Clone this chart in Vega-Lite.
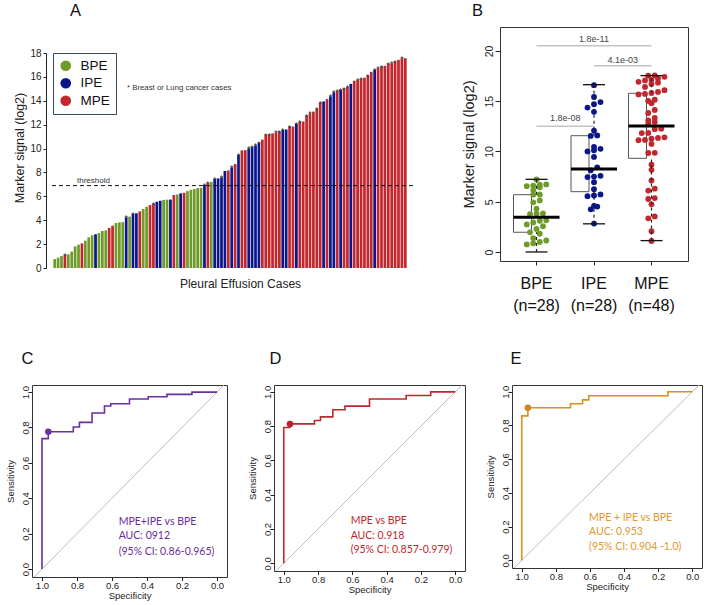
{
  "$schema": "https://vega.github.io/schema/vega-lite/v6.json",
  "padding": {"left": 4, "top": 2, "right": 1, "bottom": 1},
  "background": "white",
  "config": {
    "font": "Liberation Sans",
    "view": {"stroke": null},
    "axis": {"domainColor": "#222", "tickColor": "#222", "labelColor": "#222", "titleColor": "#222", "grid": false, "titleFontWeight": "normal", "labelOverlap": false, "labelFlush": false},
    "title": {"fontWeight": "normal", "anchor": "start", "frame": "group", "fontSize": 16.5, "color": "#111"}
  },
  "datasets": {
    "cases": [
      {"id":1,"v":0.75,"g":"BPE","bl":0},{"id":2,"v":0.86,"g":"BPE","bl":0},{"id":3,"v":1.0,"g":"BPE","bl":0},{"id":4,"v":1.09,"g":"MPE","bl":1},
      {"id":5,"v":1.14,"g":"BPE","bl":0},{"id":6,"v":1.37,"g":"BPE","bl":0},{"id":7,"v":1.81,"g":"BPE","bl":0},{"id":8,"v":1.95,"g":"BPE","bl":0},
      {"id":9,"v":2.06,"g":"MPE","bl":0},{"id":10,"v":2.29,"g":"BPE","bl":0},{"id":11,"v":2.57,"g":"BPE","bl":0},{"id":12,"v":2.74,"g":"BPE","bl":0},
      {"id":13,"v":2.82,"g":"IPE","bl":0},{"id":14,"v":2.93,"g":"BPE","bl":0},{"id":15,"v":3.1,"g":"BPE","bl":0},{"id":16,"v":3.15,"g":"BPE","bl":0},
      {"id":17,"v":3.35,"g":"MPE","bl":0},{"id":18,"v":3.54,"g":"MPE","bl":0},{"id":19,"v":3.77,"g":"BPE","bl":0},{"id":20,"v":3.82,"g":"BPE","bl":0},
      {"id":21,"v":3.84,"g":"BPE","bl":0},{"id":22,"v":4.24,"g":"IPE","bl":1},{"id":23,"v":4.3,"g":"BPE","bl":0},{"id":24,"v":4.52,"g":"IPE","bl":1},
      {"id":25,"v":4.58,"g":"IPE","bl":0},{"id":26,"v":4.74,"g":"MPE","bl":0},{"id":27,"v":4.94,"g":"BPE","bl":0},{"id":28,"v":5.13,"g":"BPE","bl":0},
      {"id":29,"v":5.27,"g":"MPE","bl":0},{"id":30,"v":5.36,"g":"MPE","bl":1},{"id":31,"v":5.55,"g":"IPE","bl":0},{"id":32,"v":5.63,"g":"IPE","bl":0},
      {"id":33,"v":5.7,"g":"BPE","bl":0},{"id":34,"v":5.72,"g":"BPE","bl":0},{"id":35,"v":5.73,"g":"IPE","bl":0},{"id":36,"v":6.11,"g":"MPE","bl":0},
      {"id":37,"v":6.16,"g":"BPE","bl":0},{"id":38,"v":6.25,"g":"IPE","bl":0},{"id":39,"v":6.3,"g":"MPE","bl":0},{"id":40,"v":6.44,"g":"BPE","bl":0},
      {"id":41,"v":6.55,"g":"BPE","bl":0},{"id":42,"v":6.61,"g":"BPE","bl":0},{"id":43,"v":6.69,"g":"BPE","bl":0},{"id":44,"v":6.72,"g":"BPE","bl":0},
      {"id":45,"v":6.95,"g":"IPE","bl":1},{"id":46,"v":7.11,"g":"MPE","bl":1},{"id":47,"v":7.22,"g":"BPE","bl":0},{"id":48,"v":7.45,"g":"IPE","bl":1},
      {"id":49,"v":7.5,"g":"IPE","bl":0},{"id":50,"v":7.58,"g":"IPE","bl":1},{"id":51,"v":8.12,"g":"IPE","bl":0},{"id":52,"v":8.17,"g":"MPE","bl":0},
      {"id":53,"v":8.42,"g":"IPE","bl":1},{"id":54,"v":8.7,"g":"MPE","bl":0},{"id":55,"v":9.46,"g":"IPE","bl":1},{"id":56,"v":9.85,"g":"MPE","bl":0},
      {"id":57,"v":9.87,"g":"MPE","bl":0},{"id":58,"v":10.01,"g":"IPE","bl":1},{"id":59,"v":10.12,"g":"IPE","bl":1},{"id":60,"v":10.26,"g":"IPE","bl":1},
      {"id":61,"v":10.46,"g":"IPE","bl":1},{"id":62,"v":10.75,"g":"MPE","bl":0},{"id":63,"v":11.13,"g":"MPE","bl":1},{"id":64,"v":11.15,"g":"MPE","bl":1},
      {"id":65,"v":11.27,"g":"MPE","bl":0},{"id":66,"v":11.35,"g":"MPE","bl":1},{"id":67,"v":11.41,"g":"MPE","bl":1},{"id":68,"v":11.55,"g":"IPE","bl":1},
      {"id":69,"v":11.6,"g":"IPE","bl":0},{"id":70,"v":11.83,"g":"MPE","bl":1},{"id":71,"v":11.85,"g":"MPE","bl":0},{"id":72,"v":12.08,"g":"IPE","bl":1},
      {"id":73,"v":12.22,"g":"MPE","bl":1},{"id":74,"v":12.27,"g":"MPE","bl":0},{"id":75,"v":12.75,"g":"MPE","bl":1},{"id":76,"v":12.94,"g":"MPE","bl":1},
      {"id":77,"v":13.1,"g":"MPE","bl":0},{"id":78,"v":13.33,"g":"MPE","bl":1},{"id":79,"v":13.83,"g":"MPE","bl":1},{"id":80,"v":13.95,"g":"IPE","bl":0},
      {"id":81,"v":14.14,"g":"MPE","bl":0},{"id":82,"v":14.37,"g":"IPE","bl":1},{"id":83,"v":14.7,"g":"IPE","bl":1},{"id":84,"v":14.81,"g":"MPE","bl":1},
      {"id":85,"v":14.92,"g":"IPE","bl":1},{"id":86,"v":15.03,"g":"MPE","bl":1},{"id":87,"v":15.15,"g":"MPE","bl":1},{"id":88,"v":15.42,"g":"IPE","bl":0},
      {"id":89,"v":15.68,"g":"MPE","bl":0},{"id":90,"v":15.73,"g":"MPE","bl":1},{"id":91,"v":15.82,"g":"MPE","bl":1},{"id":92,"v":15.93,"g":"MPE","bl":0},
      {"id":93,"v":16.1,"g":"MPE","bl":1},{"id":94,"v":16.43,"g":"MPE","bl":0},{"id":95,"v":16.6,"g":"IPE","bl":1},{"id":96,"v":16.71,"g":"MPE","bl":1},
      {"id":97,"v":16.85,"g":"MPE","bl":1},{"id":98,"v":16.93,"g":"MPE","bl":0},{"id":99,"v":17.07,"g":"MPE","bl":1},{"id":100,"v":17.13,"g":"MPE","bl":1},
      {"id":101,"v":17.27,"g":"MPE","bl":1},{"id":102,"v":17.43,"g":"MPE","bl":0},{"id":103,"v":17.55,"g":"MPE","bl":1},{"id":104,"v":17.57,"g":"MPE","bl":0}
    ],
    "box": [
      {"g":"BPE","lo":0.0,"q1":1.96,"med":3.45,"q3":5.7,"hi":7.23},
      {"g":"IPE","lo":2.8,"q1":6.0,"med":8.26,"q3":11.57,"hi":16.65},
      {"g":"MPE","lo":1.13,"q1":9.32,"med":12.54,"q3":15.79,"hi":17.55}
    ],
    "diag": [{"sp":1.2,"se":-0.2},{"sp":-0.2,"se":1.2}],
    "rocC": [
      {"i":1,"sp":1,"se":0},{"i":2,"sp":1,"se":0.737},{"i":3,"sp":0.964,"se":0.737},{"i":4,"sp":0.964,"se":0.776},
      {"i":5,"sp":0.821,"se":0.776},{"i":6,"sp":0.821,"se":0.803},{"i":7,"sp":0.786,"se":0.803},{"i":8,"sp":0.786,"se":0.829},
      {"i":9,"sp":0.714,"se":0.829},{"i":10,"sp":0.714,"se":0.882},{"i":11,"sp":0.643,"se":0.882},{"i":12,"sp":0.643,"se":0.921},
      {"i":13,"sp":0.607,"se":0.921},{"i":14,"sp":0.607,"se":0.934},{"i":15,"sp":0.5,"se":0.934},{"i":16,"sp":0.5,"se":0.961},
      {"i":17,"sp":0.393,"se":0.961},{"i":18,"sp":0.393,"se":0.974},{"i":19,"sp":0.286,"se":0.974},{"i":20,"sp":0.286,"se":0.987},
      {"i":21,"sp":0.143,"se":0.987},{"i":22,"sp":0.143,"se":1},{"i":23,"sp":0,"se":1}
    ],
    "rocD": [
      {"i":1,"sp":1,"se":0},{"i":2,"sp":1,"se":0.792},{"i":3,"sp":0.964,"se":0.792},{"i":4,"sp":0.964,"se":0.813},
      {"i":5,"sp":0.821,"se":0.813},{"i":6,"sp":0.821,"se":0.833},{"i":7,"sp":0.786,"se":0.833},{"i":8,"sp":0.786,"se":0.854},
      {"i":9,"sp":0.714,"se":0.854},{"i":10,"sp":0.714,"se":0.896},{"i":11,"sp":0.643,"se":0.896},{"i":12,"sp":0.643,"se":0.917},
      {"i":13,"sp":0.5,"se":0.917},{"i":14,"sp":0.5,"se":0.958},{"i":15,"sp":0.286,"se":0.958},{"i":16,"sp":0.286,"se":0.979},
      {"i":17,"sp":0.143,"se":0.979},{"i":18,"sp":0.143,"se":1},{"i":19,"sp":0,"se":1}
    ],
    "rocE": [
      {"i":1,"sp":1,"se":0},{"i":2,"sp":1,"se":0.857},{"i":3,"sp":0.964,"se":0.857},{"i":4,"sp":0.964,"se":0.905},
      {"i":5,"sp":0.714,"se":0.905},{"i":6,"sp":0.714,"se":0.929},{"i":7,"sp":0.643,"se":0.929},{"i":8,"sp":0.643,"se":0.952},
      {"i":9,"sp":0.607,"se":0.952},{"i":10,"sp":0.607,"se":0.976},{"i":11,"sp":0.143,"se":0.976},{"i":12,"sp":0.143,"se":1},
      {"i":13,"sp":0,"se":1}
    ]
  },
  "bounds": "flush",
  "spacing": 358,
  "vconcat": [
    {
      "bounds": "flush",
      "spacing": 87,
      "resolve": {"scale": {"color": "independent"}, "legend": {"color": "independent"}},
      "hconcat": [
        {
          "title": {"text": "A", "dx": 38, "offset": 7.5},
          "width": 381, "height": 241,
          "layer": [
            {
              "data": {"name": "cases"},
              "transform": [{"calculate": "datum.id - 0.4", "as": "x1"}, {"calculate": "datum.id + 0.4", "as": "x2"}],
              "mark": {"type": "bar"},
              "encoding": {
                "x": {"field": "x1", "type": "quantitative", "scale": {"domain": [-5.669, 106.263], "nice": false, "zero": false},
                      "axis": {"labels": false, "ticks": false, "domain": false, "title": "Pleural Effusion Cases", "titleFontSize": 12, "titlePadding": 10, "titleX": 208}},
                "x2": {"field": "x2"},
                "y": {"field": "v", "type": "quantitative", "scale": {"domain": [0, 20.18], "nice": false},
                      "axis": {"values": [0,2,4,6,8,10,12,14,16,18], "tickCount": 30, "format": "d", "offset": -14, "labelFontSize": 10, "tickSize": 3, "labelPadding": 2, "domainDash": [215, 400], "labelOverlap": false,
                               "title": "Marker signal (log2)", "titleFontSize": 12.5, "titlePadding": 3}},
                "y2": {"datum": 0},
                "color": {"field": "g", "type": "nominal", "scale": {"domain": ["BPE","IPE","MPE"], "range": ["#6f9b2b","#0b168c","#c1272d"]},
                          "legend": {"title": null, "orient": "none", "legendX": 21, "legendY": 26, "padding": 6, "strokeColor": "#34495e", "fillColor": "white", "symbolType": "circle", "symbolSize": 115, "symbolStrokeWidth": 0, "symbolOpacity": 1, "labelFontSize": 13.5, "labelOffset": 8, "rowPadding": 2.5, "labelColor": "#111"}}
              }
            },
            {
              "data": {"name": "cases"},
              "transform": [{"filter": "datum.bl == 1"}],
              "mark": {"type": "text", "text": "*", "baseline": "alphabetic", "dy": 4, "fontSize": 9, "color": "#333"},
              "encoding": {"x": {"field": "id", "type": "quantitative"}, "y": {"field": "v", "type": "quantitative"}}
            },
            {
              "data": {"values": [{"a": 0.2, "b": 106.26, "t": 6.9}]},
              "mark": {"type": "rule", "strokeDash": [4, 3], "color": "#111", "strokeWidth": 1},
              "encoding": {"x": {"field": "a", "type": "quantitative"}, "x2": {"field": "b"}, "y": {"field": "t", "type": "quantitative"}}
            },
            {
              "data": {"values": [{"x": 7.55, "y": 7.3, "label": "threshold"}]},
              "mark": {"type": "text", "align": "left", "baseline": "middle", "fontSize": 8, "color": "#333"},
              "encoding": {"x": {"field": "x", "type": "quantitative"}, "y": {"field": "y", "type": "quantitative"}, "text": {"field": "label"}}
            },
            {
              "data": {"values": [{"x": 22.24, "y": 15.06, "label": "* Breast or Lung cancer cases"}]},
              "mark": {"type": "text", "align": "left", "baseline": "middle", "fontSize": 7.8, "color": "#333"},
              "encoding": {"x": {"field": "x", "type": "quantitative"}, "y": {"field": "y", "type": "quantitative"}, "text": {"field": "label"}}
            }
          ]
        },
        {
          "title": {"text": "B", "dx": -28, "offset": 7.5},
          "width": 188, "height": 234,
          "view": {"stroke": "#333", "strokeWidth": 1},
          "layer": [
            {
              "data": {"name": "box"},
              "mark": {"type": "bar", "fill": "white", "stroke": "#555", "strokeWidth": 1},
              "encoding": {
                "x": {"field": "g", "type": "nominal", "sort": ["BPE","IPE","MPE"], "scale": {"type": "band", "paddingInner": 0.2, "paddingOuter": 0.235},
                      "axis": {"title": null, "labelAngle": 0, "labelFontSize": 16, "tickSize": 4, "labelPadding": 10, "domain": false, "labelColor": "#111", "labelLineHeight": 22,
                               "labelExpr": "datum.value == 'MPE' ? ['MPE', '(n=48)'] : [datum.value, '(n=28)']"}},
                "y": {"field": "q1", "type": "quantitative", "scale": {"domain": [-0.9, 22.39], "nice": false, "zero": false},
                      "axis": {"values": [0,5,10,15,20], "tickCount": 30, "labelAngle": -90, "labelAlign": "center", "labelBaseline": "alphabetic", "labelFontSize": 10.5, "tickSize": 5, "labelPadding": 3, "domain": false, "labelOverlap": false,
                               "title": "Marker signal (log2)", "titleFontSize": 14.5, "titlePadding": 8}},
                "y2": {"field": "q3"}
              }
            },
            {
              "data": {"name": "cases"},
              "transform": [
                {"calculate": "floor(datum.v / 0.65)", "as": "bin"},
                {"window": [{"op": "row_number", "as": "k"}], "groupby": ["g", "bin"]},
                {"joinaggregate": [{"op": "count", "as": "n"}], "groupby": ["g", "bin"]},
                {"calculate": "datum.k - 1 - (datum.n - 1) / 2", "as": "off"}
              ],
              "mark": {"type": "circle", "size": 34, "opacity": 1},
              "encoding": {
                "x": {"field": "g", "type": "nominal"},
                "xOffset": {"field": "off", "type": "quantitative", "scale": {"domain": [-3.54, 3.54]}},
                "y": {"field": "v", "type": "quantitative"},
                "color": {"field": "g", "type": "nominal", "scale": {"domain": ["BPE","IPE","MPE"], "range": ["#6f9b2b","#0b168c","#c1272d"]}, "legend": null}
              }
            },
            {
              "data": {"name": "box"},
              "mark": {"type": "rule", "strokeDash": [3, 3], "color": "#222", "strokeWidth": 1.2},
              "encoding": {"x": {"field": "g", "type": "nominal"}, "y": {"field": "lo", "type": "quantitative"}, "y2": {"field": "q1"}}
            },
            {
              "data": {"name": "box"},
              "mark": {"type": "rule", "strokeDash": [3, 3], "color": "#222", "strokeWidth": 1.2},
              "encoding": {"x": {"field": "g", "type": "nominal"}, "y": {"field": "q3", "type": "quantitative"}, "y2": {"field": "hi"}}
            },
            {
              "data": {"name": "box"},
              "mark": {"type": "tick", "color": "#111", "size": 22, "thickness": 1.3, "opacity": 1},
              "encoding": {"x": {"field": "g", "type": "nominal"}, "y": {"field": "lo", "type": "quantitative"}}
            },
            {
              "data": {"name": "box"},
              "mark": {"type": "tick", "color": "#111", "size": 22, "thickness": 1.3, "opacity": 1},
              "encoding": {"x": {"field": "g", "type": "nominal"}, "y": {"field": "hi", "type": "quantitative"}}
            },
            {
              "data": {"name": "box"},
              "mark": {"type": "tick", "color": "#000", "size": 46, "thickness": 3, "opacity": 1},
              "encoding": {"x": {"field": "g", "type": "nominal"}, "y": {"field": "med", "type": "quantitative"}}
            },
            {
              "data": {"values": [{"a": "BPE", "b": "MPE", "y": 20.53}, {"a": "IPE", "b": "MPE", "y": 18.54}, {"a": "BPE", "b": "IPE", "y": 12.5}]},
              "mark": {"type": "rule", "color": "#c4c4c4", "strokeWidth": 1.5},
              "encoding": {"x": {"field": "a", "type": "nominal"}, "x2": {"field": "b"}, "y": {"field": "y", "type": "quantitative"}}
            },
            {
              "data": {"values": [{"a": "IPE", "y": 21.2, "p": "1.8e-11"}]},
              "mark": {"type": "text", "fontSize": 9, "color": "#444", "baseline": "middle"},
              "encoding": {"x": {"field": "a", "type": "nominal"}, "y": {"field": "y", "type": "quantitative"}, "text": {"field": "p"}}
            },
            {
              "data": {"values": [{"a": "MPE", "y": 19.13, "p": "4.1e-03"}, {"a": "IPE", "y": 13.33, "p": "1.8e-08"}]},
              "mark": {"type": "text", "fontSize": 9, "color": "#444", "baseline": "middle", "dx": -28.75},
              "encoding": {"x": {"field": "a", "type": "nominal"}, "y": {"field": "y", "type": "quantitative"}, "text": {"field": "p"}}
            }
          ]
        }
      ]
    },
    {
      "bounds": "flush",
      "spacing": 47,
      "hconcat": [
        {
          "title": {"text": "C", "dx": -10.5, "offset": 18},
          "width": 195, "height": 192,
          "view": {"stroke": "#333", "strokeWidth": 1},
          "layer": [
            {
              "data": {"name": "diag"},
              "mark": {"type": "line", "color": "#bdbdbd", "strokeWidth": 1, "clip": true},
              "encoding": {
                "x": {"field": "sp", "type": "quantitative", "scale": {"domain": [-0.057, 1.057], "reverse": true, "nice": false, "zero": false},
                      "axis": {"values": [0,0.2,0.4,0.6,0.8,1], "tickCount": 30, "format": ".1f", "labelFontSize": 9.5, "tickSize": 3.5, "labelPadding": 0, "domain": false, "labelOverlap": false, "title": "Specificity", "titleFontSize": 9.5, "titlePadding": 0}},
                "y": {"field": "se", "type": "quantitative", "scale": {"domain": [-0.045, 1.04], "nice": false, "zero": false},
                      "axis": {"values": [0,0.2,0.4,0.6,0.8,1], "tickCount": 30, "format": ".1f", "labelAngle": -90, "labelAlign": "center", "labelBaseline": "alphabetic", "labelFontSize": 9.5, "tickSize": 3.5, "labelPadding": 0.5, "domain": false, "labelOverlap": false, "title": "Sensitivity", "titleFontSize": 9.5, "titlePadding": 5}}
              }
            },
            {
              "data": {"name": "rocC"},
              "mark": {"type": "line", "color": "#6a30a0", "strokeWidth": 1.6},
              "encoding": {"x": {"field": "sp", "type": "quantitative"}, "y": {"field": "se", "type": "quantitative"}, "order": {"field": "i", "type": "quantitative"}}
            },
            {
              "data": {"values": [{"sp": 0.964, "se": 0.776}]},
              "mark": {"type": "circle", "size": 42, "color": "#6a30a0", "opacity": 1},
              "encoding": {"x": {"field": "sp", "type": "quantitative"}, "y": {"field": "se", "type": "quantitative"}}
            },
            {
              "data": {"values": [{"sp": 0.562, "se": 0.264, "t": "MPE+IPE vs BPE"}, {"sp": 0.562, "se": 0.185, "t": "AUC: 0912"}, {"sp": 0.562, "se": 0.098, "t": "(95% CI: 0.86-0.965)"}]},
              "mark": {"type": "text", "align": "left", "baseline": "middle", "font": "Lato", "fontSize": 10.5, "color": "#6a2c9e"},
              "encoding": {"x": {"field": "sp", "type": "quantitative"}, "y": {"field": "se", "type": "quantitative"}, "text": {"field": "t"}}
            }
          ]
        },
        {
          "title": {"text": "D", "dx": -4.5, "offset": 18},
          "width": 191, "height": 186,
          "view": {"stroke": "#333", "strokeWidth": 1},
          "layer": [
            {
              "data": {"name": "diag"},
              "mark": {"type": "line", "color": "#bdbdbd", "strokeWidth": 1, "clip": true},
              "encoding": {
                "x": {"field": "sp", "type": "quantitative", "scale": {"domain": [-0.057, 1.057], "reverse": true, "nice": false, "zero": false},
                      "axis": {"values": [0,0.2,0.4,0.6,0.8,1], "tickCount": 30, "format": ".1f", "labelFontSize": 9.5, "tickSize": 3.5, "labelPadding": 0, "domain": false, "labelOverlap": false, "title": "Specificity", "titleFontSize": 9.5, "titlePadding": 0}},
                "y": {"field": "se", "type": "quantitative", "scale": {"domain": [-0.045, 1.04], "nice": false, "zero": false},
                      "axis": {"values": [0,0.2,0.4,0.6,0.8,1], "tickCount": 30, "format": ".1f", "labelAngle": -90, "labelAlign": "center", "labelBaseline": "alphabetic", "labelFontSize": 9.5, "tickSize": 3.5, "labelPadding": 0.5, "domain": false, "labelOverlap": false, "title": "Sensitivity", "titleFontSize": 9.5, "titlePadding": 5}}
              }
            },
            {
              "data": {"name": "rocD"},
              "mark": {"type": "line", "color": "#c0272d", "strokeWidth": 1.6},
              "encoding": {"x": {"field": "sp", "type": "quantitative"}, "y": {"field": "se", "type": "quantitative"}, "order": {"field": "i", "type": "quantitative"}}
            },
            {
              "data": {"values": [{"sp": 0.964, "se": 0.813}]},
              "mark": {"type": "circle", "size": 42, "color": "#b5222a", "opacity": 1},
              "encoding": {"x": {"field": "sp", "type": "quantitative"}, "y": {"field": "se", "type": "quantitative"}}
            },
            {
              "data": {"values": [{"sp": 0.61, "se": 0.244, "t": "MPE vs BPE"}, {"sp": 0.61, "se": 0.161, "t": "AUC: 0.918"}, {"sp": 0.61, "se": 0.078, "t": "(95% CI: 0.857-0.979)"}]},
              "mark": {"type": "text", "align": "left", "baseline": "middle", "font": "Lato", "fontSize": 10.5, "color": "#c0272d"},
              "encoding": {"x": {"field": "sp", "type": "quantitative"}, "y": {"field": "se", "type": "quantitative"}, "text": {"field": "t"}}
            }
          ]
        },
        {
          "title": {"text": "E", "dx": -1.5, "offset": 18},
          "width": 190, "height": 183,
          "view": {"stroke": "#333", "strokeWidth": 1},
          "layer": [
            {
              "data": {"name": "diag"},
              "mark": {"type": "line", "color": "#bdbdbd", "strokeWidth": 1, "clip": true},
              "encoding": {
                "x": {"field": "sp", "type": "quantitative", "scale": {"domain": [-0.057, 1.057], "reverse": true, "nice": false, "zero": false},
                      "axis": {"values": [0,0.2,0.4,0.6,0.8,1], "tickCount": 30, "format": ".1f", "labelFontSize": 9.5, "tickSize": 3.5, "labelPadding": 0, "domain": false, "labelOverlap": false, "title": "Specificity", "titleFontSize": 9.5, "titlePadding": 0}},
                "y": {"field": "se", "type": "quantitative", "scale": {"domain": [-0.045, 1.04], "nice": false, "zero": false},
                      "axis": {"values": [0,0.2,0.4,0.6,0.8,1], "tickCount": 30, "format": ".1f", "labelAngle": -90, "labelAlign": "center", "labelBaseline": "alphabetic", "labelFontSize": 9.5, "tickSize": 3.5, "labelPadding": 0.5, "domain": false, "labelOverlap": false, "title": "Sensitivity", "titleFontSize": 9.5, "titlePadding": 5}}
              }
            },
            {
              "data": {"name": "rocE"},
              "mark": {"type": "line", "color": "#d8901a", "strokeWidth": 1.6},
              "encoding": {"x": {"field": "sp", "type": "quantitative"}, "y": {"field": "se", "type": "quantitative"}, "order": {"field": "i", "type": "quantitative"}}
            },
            {
              "data": {"values": [{"sp": 0.964, "se": 0.905}]},
              "mark": {"type": "circle", "size": 42, "color": "#cf8612", "opacity": 1},
              "encoding": {"x": {"field": "sp", "type": "quantitative"}, "y": {"field": "se", "type": "quantitative"}}
            },
            {
              "data": {"values": [{"sp": 0.605, "se": 0.249, "t": "MPE + IPE vs BPE"}, {"sp": 0.605, "se": 0.17, "t": "AUC: 0.953"}, {"sp": 0.605, "se": 0.078, "t": "(95% CI: 0.904 -1.0)"}]},
              "mark": {"type": "text", "align": "left", "baseline": "middle", "font": "Lato", "fontSize": 10.5, "color": "#e0982c"},
              "encoding": {"x": {"field": "sp", "type": "quantitative"}, "y": {"field": "se", "type": "quantitative"}, "text": {"field": "t"}}
            }
          ]
        }
      ]
    }
  ]
}
